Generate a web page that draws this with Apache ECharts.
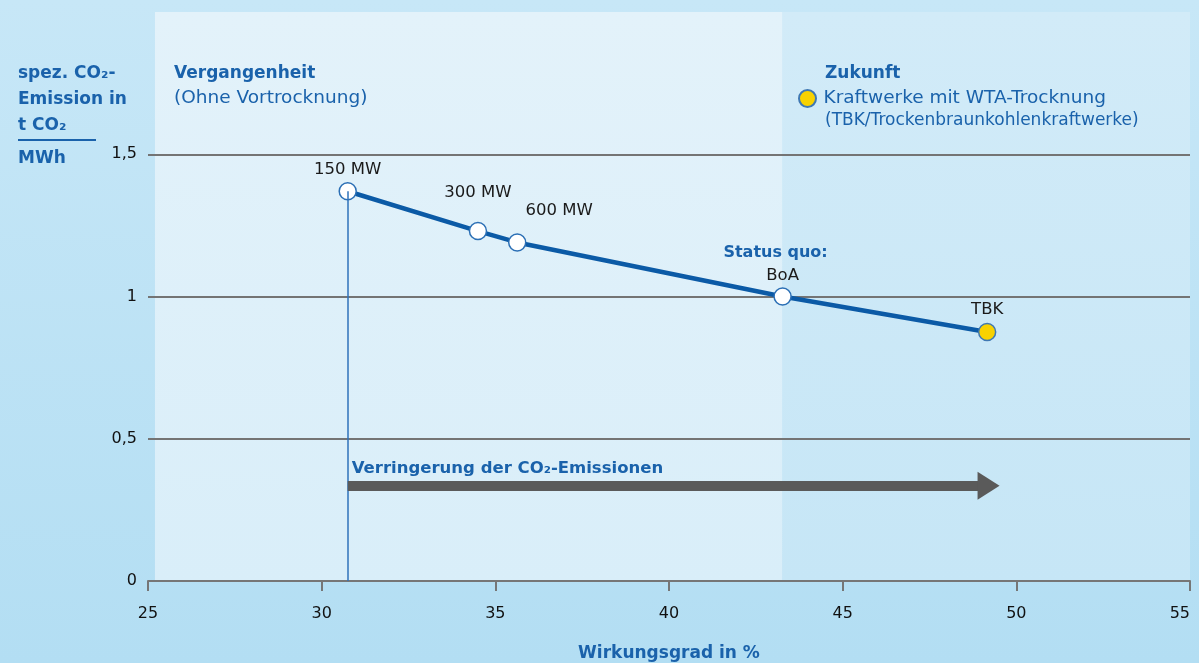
<!DOCTYPE html>
<html>
<head>
<meta charset="utf-8">
<script src="https://cdn.jsdelivr.net/npm/echarts@6/dist/echarts.min.js"></script>
<style>
  html, body { margin: 0; padding: 0; }
  body { background: linear-gradient(180deg, #c7e7f7 0%, #b3def3 100%); }
  #chart { width: 1199px; height: 663px; }
</style>
</head>
<body>
<div id="chart"></div>
<script>
  // values
  const pointLabels = ["150 MW", "300 MW", "600 MW", "BoA", "TBK"];
  const efficiency = [30.75, 34.5, 35.63, 43.27, 49.16]; // Wirkungsgrad in %
  const emission = [1.37, 1.23, 1.19, 1.0, 0.875]; // t CO2 / MWh
  const xTicks = [25, 30, 35, 40, 45, 50, 55];
  const yTicks = [0, 0.5, 1, 1.5];
  const arrowLevel = 0.335;
  const arrowEnd = 49.2;
  const panelStart = 25.2;

  const blue = "#1a62ab";
  const font = "DejaVu Sans";

  // per-point label placement
  const labelStyle = [
    { distance: 4 },
    { distance: 21 },
    { distance: 14, offset: [42, 0] },
    {
      distance: 1,
      formatter: "{s|Status quo:}\n{n|BoA}",
      rich: {
        s: { color: blue, fontWeight: "bold", fontSize: 16, fontFamily: font, lineHeight: 22, padding: [0, 14, 0, 0] },
        n: { color: "#1a1a1a", fontSize: 16.5, fontFamily: font, lineHeight: 22 },
      },
    },
    { distance: 5 },
  ];

  const chart = echarts.init(document.getElementById("chart"));

  const option = {
    backgroundColor: "transparent",
    animation: false,
    grid: { left: 148, right: 9, top: 12, bottom: 82, outerBoundsMode: "none", containLabel: false },
    title: [
      {
        text: "spez. CO₂-\nEmission in\nt CO₂",
        left: 18, top: 61, padding: 0,
        textStyle: { color: blue, fontSize: 17, fontWeight: "bold", fontFamily: font, lineHeight: 26 },
      },
      {
        text: "MWh",
        left: 18, top: 150, padding: 0,
        textStyle: { color: blue, fontSize: 17, fontWeight: "bold", fontFamily: font },
      },
      {
        text: "Vergangenheit",
        left: 174, top: 65, padding: 0,
        textStyle: { color: blue, fontSize: 17, fontWeight: "bold", fontFamily: font },
      },
      {
        text: "(Ohne Vortrocknung)",
        left: 174, top: 89, padding: 0,
        textStyle: { color: blue, fontSize: 18.5, fontWeight: "normal", fontFamily: font },
      },
      {
        text: "Zukunft",
        left: 825, top: 65, padding: 0,
        textStyle: { color: blue, fontSize: 17, fontWeight: "bold", fontFamily: font },
      },
      {
        text: "(TBK/Trockenbraunkohlenkraftwerke)",
        left: 825, top: 112, padding: 0,
        textStyle: { color: blue, fontSize: 17, fontWeight: "normal", fontFamily: font },
      },
    ],
    legend: {
      left: 798, top: 89, padding: 0,
      icon: "circle",
      itemWidth: 22, itemHeight: 17,
      textStyle: { color: blue, fontSize: 18.5, fontFamily: font },
      data: ["Kraftwerke mit WTA-Trocknung"],
    },
    graphic: [
      { type: "line", shape: { x1: 18, y1: 140, x2: 96, y2: 140 }, style: { stroke: blue, lineWidth: 2 } },
    ],
    xAxis: {
      type: "value",
      z: 2,
      min: xTicks[0],
      max: xTicks[xTicks.length - 1],
      interval: 5,
      name: "Wirkungsgrad in %",
      nameLocation: "middle",
      nameGap: 64,
      nameTextStyle: { color: blue, fontSize: 17, fontWeight: "bold", fontFamily: font },
      axisLine: { lineStyle: { color: "#767676", width: 2 } },
      axisTick: { show: true, length: 10, lineStyle: { color: "#767676", width: 2 } },
      axisLabel: { color: "#111", fontSize: 16, fontFamily: font, margin: 25, alignMaxLabel: "right" },
      splitLine: { show: false },
    },
    yAxis: {
      type: "value",
      z: 2,
      min: 0,
      max: 2,
      interval: 0.5,
      axisLine: { show: false },
      axisTick: { show: false },
      axisLabel: {
        color: "#111", fontSize: 16, fontFamily: font, margin: 11,
        showMaxLabel: false,
        formatter: (v) => (yTicks.includes(v) ? String(v).replace(".", ",") : ""),
      },
      splitLine: {
        show: true, showMinLine: false, showMaxLine: false,
        lineStyle: { color: "#747474", width: 2 },
      },
    },
    series: [
      {
        // background panels: Vergangenheit / Zukunft
        type: "line",
        name: "panels",
        z: 0,
        data: [],
        markArea: {
          silent: true,
          z: 0,
          data: [
            [
              {
                xAxis: panelStart,
                itemStyle: {
                  color: new echarts.graphic.LinearGradient(0, 0, 0, 1, [
                    { offset: 0, color: "#e3f2fa" },
                    { offset: 1, color: "#d9eef9" },
                  ]),
                },
              },
              { xAxis: efficiency[3] },
            ],
            [
              {
                xAxis: efficiency[3],
                itemStyle: {
                  color: new echarts.graphic.LinearGradient(0, 0, 0, 1, [
                    { offset: 0, color: "#d2ebf8" },
                    { offset: 1, color: "#c6e6f6" },
                  ]),
                },
              },
              { xAxis: xTicks[xTicks.length - 1] },
            ],
          ],
        },
      },
      {
        type: "line",
        name: "Verlauf",
        z: 3,
        data: efficiency.slice(0, 4).map((x, i) => ({
          value: [x, emission[i]],
          name: pointLabels[i],
          label: Object.assign({ show: true, position: "top", formatter: "{b}", color: "#1a1a1a", fontSize: 16.5, fontFamily: font }, labelStyle[i]),
        })).concat([{ value: [efficiency[4], emission[4]], symbol: "none" }]),
        symbol: "circle",
        symbolSize: 17,
        lineStyle: { color: "#0b5aa6", width: 4.5 },
        itemStyle: { color: "#ffffff", borderColor: "#2b6fb5", borderWidth: 1.5 },
        markLine: {
          silent: true,
          symbol: "none",
          data: [
            [
              { coord: [efficiency[0], 0], lineStyle: { color: "#2f72ba", width: 1.5, type: "solid" }, label: { show: false } },
              { coord: [efficiency[0], emission[0]] },
            ],
            [
              {
                coord: [efficiency[0], arrowLevel],
                symbol: "none",
                lineStyle: { color: "#5a5a5a", width: 10, type: "solid" },
                label: {
                  show: true,
                  position: "insideStartTop",
                  formatter: "Verringerung der CO₂-Emissionen",
                  color: blue, fontSize: 16.5, fontWeight: "bold", fontFamily: font,
                  distance: [4, 8],
                },
              },
              { coord: [arrowEnd, arrowLevel], symbol: "triangle", symbolSize: [28, 22] },
            ],
          ],
        },
      },
      {
        type: "scatter",
        name: "Kraftwerke mit WTA-Trocknung",
        z: 4,
        data: [{ value: [efficiency[4], emission[4]], name: pointLabels[4] }],
        symbol: "circle",
        symbolSize: 17,
        itemStyle: { color: "#f8d200", borderColor: "#3f78b3", borderWidth: 1.5, opacity: 1 },
        label: { show: true, position: "top", formatter: "{b}", distance: 5, color: "#1a1a1a", fontSize: 16.5, fontFamily: font },
      },
    ],
  };

  chart.setOption(option);
</script>
</body>
</html>
